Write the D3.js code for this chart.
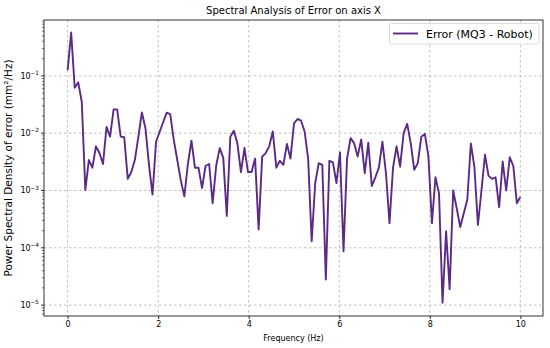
<!DOCTYPE html>
<html>
<head>
<meta charset="utf-8">
<script src="https://cdn.jsdelivr.net/npm/d3@7"></script>
<style>
  body { margin: 0; background: #fff; }
  text { font-family: "DejaVu Sans", sans-serif; fill: #000; }
</style>
</head>
<body>
<svg id="chart" width="550" height="348"></svg>
<script>
// Welch PSD bins, 0 to 10 Hz, step 10/128 Hz
const freqStep = 10 / 128;
const psd = [
  0.126, 0.57, 0.062, 0.077, 0.035, 1.02e-3, 3.4e-3, 2.5e-3, 5.9e-3, 4.5e-3,
  2.9e-3, 0.0129, 8.7e-3, 0.026, 0.026, 8.7e-3, 8.5e-3, 1.6e-3, 2.1e-3, 3.4e-3,
  8.7e-3, 0.023, 0.0122, 2.8e-3, 8.5e-4, 7.1e-3, 0.0105, 0.0155, 0.0228, 0.0216,
  7.7e-3, 3.4e-3, 1.5e-3, 7.9e-4, 2.9e-3, 7.4e-3, 2.5e-3, 2.5e-3, 1.1e-3, 2.7e-3,
  2.9e-3, 6.0e-4, 2.7e-3, 5.5e-3, 3.7e-3, 3.6e-4, 8.7e-3, 0.011, 6.6e-3, 2.1e-3,
  5.5e-3, 2.1e-3, 2.1e-3, 3.6e-3, 2.1e-4, 3.9e-3, 4.5e-3, 5.9e-3, 0.0107, 2.5e-3,
  3.3e-3, 2.8e-3, 6.5e-3, 3.6e-3, 0.0148, 0.0177, 0.0165, 0.0107, 3.6e-3, 1.3e-4,
  1.35e-3, 3.0e-3, 2.8e-3, 2.8e-5, 3.3e-3, 3.1e-3, 1.35e-3, 4.6e-3, 8.7e-5, 3.6e-3,
  8.2e-3, 6.7e-3, 3.9e-3, 7.8e-3, 2.0e-3, 6.8e-3, 1.2e-3, 1.7e-3, 2.5e-3, 7.1e-3,
  2.0e-3, 2.7e-4, 2.5e-3, 5.9e-3, 2.6e-3, 0.010, 0.0145, 6.7e-3, 2.3e-3, 3.0e-3,
  8.7e-3, 9.7e-3, 3.9e-3, 2.7e-4, 1.7e-3, 8.9e-4, 1.1e-5, 1.95e-4, 1.9e-5, 1.0e-3,
  4.9e-4, 2.3e-4, 4.0e-4, 6.9e-4, 6.6e-3, 2.6e-3, 2.5e-4, 1.0e-3, 4.2e-3, 1.8e-3,
  1.6e-3, 1.7e-3, 5.1e-4, 3.2e-3, 1.0e-3, 3.8e-3, 2.7e-3, 6.0e-4, 7.7e-4
];
const freqs = psd.map((d, i) => i * freqStep);

const xTicks = [0, 2, 4, 6, 8, 10];
const yExponents = [-5, -4, -3, -2, -1];

const titleText = "Spectral Analysis of Error on axis X";
const xLabelText = "Frequency (Hz)";
const yLabelText = "Power Spectral Density of error (mm²/Hz)";
const seriesName = "Error (MQ3 - Robot)";
const lineColor = "#5b2a86";

const svg = d3.select("#chart");
const plotL = 44, plotR = 543, plotT = 20, plotB = 316;

const x = d3.scaleLinear().domain([-0.5, 10.5]).range([plotL + 1, plotR]);
const y = d3.scaleLog().domain([Math.pow(10, -5.19), Math.pow(10, -0.025)]).range([plotB, plotT]);

// grid
const grid = svg.append("g").attr("stroke", "#b0b0b0").attr("stroke-width", 0.8)
  .attr("stroke-dasharray", "2.5,2.5");
xTicks.forEach(t => {
  grid.append("line").attr("x1", x(t)).attr("x2", x(t)).attr("y1", plotT).attr("y2", plotB);
});
yExponents.forEach(e => {
  grid.append("line").attr("x1", plotL).attr("x2", plotR).attr("y1", y(Math.pow(10, e))).attr("y2", y(Math.pow(10, e)));
});

// data line
const data = freqs.map((f, i) => [f, psd[i]]);
svg.append("path")
  .datum(data)
  .attr("fill", "none")
  .attr("stroke", lineColor)
  .attr("stroke-width", 1.9)
  .attr("stroke-linejoin", "round")
  .attr("d", d3.line().x(d => x(d[0])).y(d => y(d[1])));

// frame
svg.append("rect").attr("x", plotL).attr("y", plotT).attr("width", plotR - plotL).attr("height", plotB - plotT)
  .attr("fill", "none").attr("stroke", "#000").attr("stroke-width", 0.8);

// x axis
const xAxis = svg.append("g").attr("transform", `translate(0,${plotB})`)
  .call(d3.axisBottom(x).tickValues(xTicks).tickSize(3).tickPadding(2).tickFormat(d3.format("d")));
xAxis.select(".domain").remove();
xAxis.selectAll("line").attr("stroke-width", 0.8);
xAxis.selectAll("text").attr("font-size", 8).attr("font-family", "DejaVu Sans");

// y axis: major ticks with 10^n labels, minor ticks
const yAxis = svg.append("g");
yExponents.forEach(e => {
  const yy = y(Math.pow(10, e));
  yAxis.append("line").attr("x1", plotL - 3).attr("x2", plotL).attr("y1", yy).attr("y2", yy)
    .attr("stroke", "#000").attr("stroke-width", 0.8);
  const t = yAxis.append("text").attr("x", plotL - 5).attr("y", yy + 3)
    .attr("text-anchor", "end").attr("font-size", 8);
  t.append("tspan").text("10");
  t.append("tspan").attr("dy", -3.8).attr("font-size", 5.7).text("\u2212" + Math.abs(e));
});
const [yMin, yMax] = y.domain();
for (let e = -6; e <= 0; e++) {
  for (let k = 2; k <= 9; k++) {
    const v = k * Math.pow(10, e);
    if (v < yMin || v > yMax) continue;
    yAxis.append("line").attr("x1", plotL - 1.8).attr("x2", plotL).attr("y1", y(v)).attr("y2", y(v))
      .attr("stroke", "#000").attr("stroke-width", 0.6);
  }
}

// labels
svg.append("text").attr("x", (plotL + plotR) / 2).attr("y", 14).attr("text-anchor", "middle")
  .attr("font-size", 10).text(titleText);
svg.append("text").attr("x", (plotL + plotR) / 2).attr("y", 341).attr("text-anchor", "middle")
  .attr("font-size", 8).text(xLabelText);
svg.append("text").attr("transform", `translate(11.5,${(plotT + plotB) / 2}) rotate(-90)`)
  .attr("text-anchor", "middle").attr("font-size", 10.5).text(yLabelText);

// legend
const lg = svg.append("g");
lg.append("rect").attr("x", 389.5).attr("y", 23.5).attr("width", 149.5).attr("height", 20.5).attr("rx", 2)
  .attr("fill", "#fff").attr("fill-opacity", 0.8).attr("stroke", "#d0d0d0").attr("stroke-width", 0.8);
lg.append("line").attr("x1", 393).attr("x2", 418).attr("y1", 33.5).attr("y2", 33.5)
  .attr("stroke", lineColor).attr("stroke-width", 1.9);
lg.append("text").attr("x", 426).attr("y", 37.5).attr("font-size", 11).text(seriesName);
</script>
</body>
</html>
